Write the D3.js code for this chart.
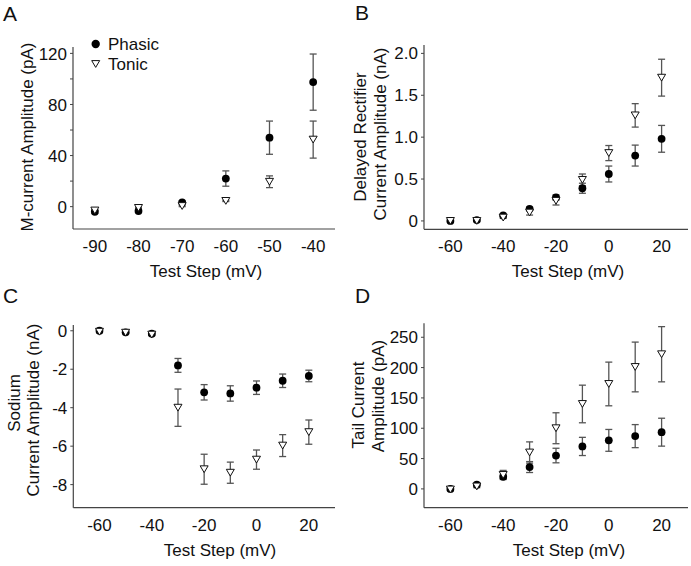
<!DOCTYPE html>
<html><head><meta charset="utf-8">
<script src="https://cdn.jsdelivr.net/npm/d3@7"></script>
<style>
body{margin:0;background:#fff;}
text{font-family:Arial,"Liberation Sans",sans-serif;fill:#111;}
</style></head>
<body>
<svg id="chart" width="691" height="566"></svg>
<script>
// ---------- DATA ----------
const voltsA = [-90, -80, -70, -60, -50, -40];
const phasicA = [-4, -3.5, 3.4, 22, 54, 97.5];
const phasicAErr = [1, 1, 1, 6, 13, 22];
const tonicA = [-3, -1, 0.5, 4.5, 19.5, 52.5];
const tonicAErr = [0.5, 0.5, 0.5, 0.5, 4.6, 14.5];

const voltsBCD = [-60, -50, -40, -30, -20, -10, 0, 10, 20];
const phasicB = [0, 0.01, 0.065, 0.145, 0.28, 0.39, 0.56, 0.78, 0.98];
const phasicBErr = [0.01, 0.01, 0.01, 0.02, 0.03, 0.06, 0.095, 0.125, 0.16];
const tonicB = [0, 0, 0.04, 0.1, 0.24, 0.49, 0.81, 1.26, 1.71];
const tonicBErr = [0.01, 0.01, 0.01, 0.03, 0.05, 0.07, 0.09, 0.14, 0.22];

const phasicC = [0, -0.08, -0.15, -1.8, -3.2, -3.26, -2.96, -2.6, -2.35];
const phasicCErr = [0.05, 0.05, 0.05, 0.36, 0.4, 0.4, 0.35, 0.35, 0.3];
const tonicC = [-0.05, -0.1, -0.2, -4.0, -7.2, -7.38, -6.7, -5.97, -5.27];
const tonicCErr = [0.05, 0.05, 0.05, 0.97, 0.78, 0.55, 0.5, 0.57, 0.63];

const phasicD = [0, 7, 20, 36, 55, 70, 80, 87, 93.5];
const phasicDErr = [2, 2, 3, 9, 12, 15, 18, 19, 23];
const tonicD = [-1, 4, 23, 60, 100, 140, 173, 201, 222];
const tonicDErr = [2, 2, 7.5, 17.5, 25.5, 31, 36, 41, 45.5];

const xTicksA = [-90, -80, -70, -60, -50, -40];
const xTicksBCD = [-60, -40, -20, 0, 20];
const yTicksA = [0, 20, 40, 60, 80, 100, 120];
const yLabelsA = [0, 40, 80, 120];
const yTicksB = [0, 0.5, 1.0, 1.5, 2.0];
const yTicksC = [0, -2, -4, -6, -8];
const yTicksD = [0, 50, 100, 150, 200, 250];

const seriesNames = ["Phasic", "Tonic"];
const xTitle = "Test Step (mV)";

// ---------- DRAW ----------
const svg = d3.select("#chart");
const AX = "#444", ERR = "#555";

function triPath(cx, cy, w) {
  const h = w * 0.85;
  return `M${cx - w/2},${cy - h/2}L${cx + w/2},${cy - h/2}L${cx},${cy + h/2}Z`;
}

function panel(cfg) {
  const g = svg.append("g");
  const x = d3.scaleLinear().domain(cfg.xDom).range([cfg.left, cfg.right]);
  const y = d3.scaleLinear().domain(cfg.yDom).range([cfg.bottom, cfg.top]);

  g.append("line").attr("x1", cfg.left).attr("x2", cfg.left).attr("y1", cfg.top).attr("y2", cfg.bottom)
    .attr("stroke", AX).attr("stroke-width", 1.2);
  g.append("line").attr("x1", cfg.left).attr("x2", cfg.right).attr("y1", cfg.bottom).attr("y2", cfg.bottom)
    .attr("stroke", AX).attr("stroke-width", 1.2);

  g.selectAll(".yt").data(cfg.yTicks).join("line")
    .attr("x1", cfg.left - 3).attr("x2", cfg.left)
    .attr("y1", d => y(d)).attr("y2", d => y(d))
    .attr("stroke", AX).attr("stroke-width", 1);
  g.selectAll(".yl").data(cfg.yLabels).join("text")
    .attr("x", cfg.left - 6).attr("y", d => y(d)).attr("dy", "0.36em")
    .attr("text-anchor", "end").attr("font-size", 17)
    .text(cfg.yFmt);
  g.selectAll(".xl").data(cfg.xTicks).join("text")
    .attr("x", d => x(d)).attr("y", cfg.bottom + 23)
    .attr("text-anchor", "middle").attr("font-size", 17)
    .text(d => d);
  g.append("text").attr("x", cfg.xTitleX).attr("y", cfg.bottom + 48)
    .attr("text-anchor", "middle").attr("font-size", 17).text(xTitle);
  cfg.yTitle.forEach(t => {
    g.append("text").attr("transform", `translate(${t.x},${t.y}) rotate(-90)`)
      .attr("text-anchor", "middle").attr("dy", "0.35em").attr("font-size", 17).text(t.s);
  });
  g.append("text").attr("x", cfg.letterX).attr("y", cfg.letterY).attr("font-size", 21).text(cfg.letter);

  function errBars(vals, errs) {
    const eg = g.append("g").attr("stroke", ERR).attr("stroke-width", 1.3);
    cfg.volts.forEach((v, i) => {
      const cx = x(v), y1 = y(vals[i] + errs[i]), y2 = y(vals[i] - errs[i]);
      eg.append("line").attr("x1", cx).attr("x2", cx).attr("y1", y1).attr("y2", y2);
      eg.append("line").attr("x1", cx - 3.5).attr("x2", cx + 3.5).attr("y1", y1).attr("y2", y1);
      eg.append("line").attr("x1", cx - 3.5).attr("x2", cx + 3.5).attr("y1", y2).attr("y2", y2);
    });
  }
  errBars(cfg.phasic, cfg.phasicErr);
  errBars(cfg.tonic, cfg.tonicErr);
  g.selectAll(".pc").data(cfg.volts).join("circle")
    .attr("cx", d => x(d)).attr("cy", (d, i) => y(cfg.phasic[i])).attr("r", 3.9).attr("fill", "#000");
  g.selectAll(".tc").data(cfg.volts).join("path")
    .attr("d", (d, i) => triPath(x(d), y(cfg.tonic[i]), 8))
    .attr("fill", "#fff").attr("stroke", "#111").attr("stroke-width", 1);

  return {x, y, g};
}

const fmtInt = d => d;
const fmtB = d => d === 0 ? "0" : d3.format(".1f")(d);

const pA = panel({
  letter: "A", letterX: 3, letterY: 21,
  left: 73, right: 335, top: 47, bottom: 229,
  xDom: [-95, -35], yDom: [-17.5, 125],
  xTicks: xTicksA, yTicks: yTicksA, yLabels: yLabelsA, yFmt: fmtInt,
  xTitleX: 206,
  yTitle: [{x: 27, y: 137, s: "M-current Amplitude (pA)"}],
  volts: voltsA, phasic: phasicA, phasicErr: phasicAErr, tonic: tonicA, tonicErr: tonicAErr
});
pA.g.append("circle").attr("cx", 95.7).attr("cy", 44).attr("r", 4.2).attr("fill", "#000");
pA.g.append("text").attr("x", 108).attr("y", 50).attr("font-size", 17).text(seriesNames[0]);
pA.g.append("path").attr("d", triPath(95.7, 64, 8)).attr("fill", "#fff").attr("stroke", "#111");
pA.g.append("text").attr("x", 108).attr("y", 70).attr("font-size", 17).text(seriesNames[1]);

panel({
  letter: "B", letterX: 355, letterY: 20,
  left: 424, right: 688, top: 45, bottom: 229.3,
  xDom: [-70, 30], yDom: [-0.1, 2.1],
  xTicks: xTicksBCD, yTicks: yTicksB, yLabels: yTicksB, yFmt: fmtB,
  xTitleX: 568,
  yTitle: [{x: 360, y: 137, s: "Delayed Rectifier"}, {x: 380, y: 134, s: "Current Amplitude (nA)"}],
  volts: voltsBCD, phasic: phasicB, phasicErr: phasicBErr, tonic: tonicB, tonicErr: tonicBErr
});

panel({
  letter: "C", letterX: 3, letterY: 303,
  left: 73.3, right: 335, top: 325, bottom: 507.7,
  xDom: [-70, 30], yDom: [-9.2, 0.3],
  xTicks: xTicksBCD, yTicks: yTicksC, yLabels: yTicksC, yFmt: fmtInt,
  xTitleX: 220,
  yTitle: [{x: 14, y: 403, s: "Sodium"}, {x: 33, y: 410, s: "Current Amplitude (nA)"}],
  volts: voltsBCD, phasic: phasicC, phasicErr: phasicCErr, tonic: tonicC, tonicErr: tonicCErr
});

panel({
  letter: "D", letterX: 355, letterY: 303,
  left: 424, right: 688, top: 323.3, bottom: 507.7,
  xDom: [-70, 30], yDom: [-31, 273],
  xTicks: xTicksBCD, yTicks: yTicksD, yLabels: yTicksD, yFmt: fmtInt,
  xTitleX: 569,
  yTitle: [{x: 358, y: 405, s: "Tail Current"}, {x: 378, y: 396, s: "Amplitude (pA)"}],
  volts: voltsBCD, phasic: phasicD, phasicErr: phasicDErr, tonic: tonicD, tonicErr: tonicDErr
});
</script>
</body></html>
